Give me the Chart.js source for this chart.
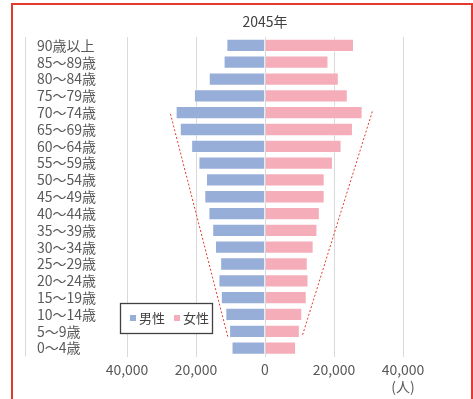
<!DOCTYPE html>
<html>
<head>
<meta charset="utf-8">
<script src="https://cdn.jsdelivr.net/npm/chart.js@4/dist/chart.umd.min.js"></script>
<style>
  html, body { margin: 0; padding: 0; background: #fff; overflow: hidden; }
  #wrap { position: relative; width: 473px; height: 399px; }
  #frame { position: absolute; left: 11px; top: 3px; width: 462px; height: 430px;
           border: 2.5px solid #e5392b; box-sizing: border-box; pointer-events: none; }
  canvas { position: absolute; left: 0; top: 0; }
</style>
</head>
<body>
<div id="wrap">
  <canvas id="pyramid" width="473" height="399"></canvas>
  <div id="frame"></div>
</div>
<script>
// Population by five-year age group, 2045 projection (persons)
const TITLE = '2045年';
const AGE_GROUPS = [
  '90歳以上', '85～89歳', '80～84歳', '75～79歳', '70～74歳', '65～69歳',
  '60～64歳', '55～59歳', '50～54歳', '45～49歳', '40～44歳', '35～39歳',
  '30～34歳', '25～29歳', '20～24歳', '15～19歳', '10～14歳', '5～9歳', '0～4歳'
];
const MALE = [
  11200, 12000, 16300, 20600, 25900, 24700, 21400, 19300, 17100, 17600,
  16400, 15300, 14500, 13000, 13500, 12800, 11500, 10400, 9700
];
const FEMALE = [
  25800, 18400, 21400, 24000, 28300, 25500, 22200, 19700, 17300, 17300,
  15900, 15200, 14100, 12400, 12600, 12100, 10800, 10100, 9000
];
const SERIES_NAMES = ['男性', '女性'];
const X_TICK_VALUES = [-40000, -20000, 0, 20000, 40000];
const UNIT_LABEL = '(人)';

// Dashed guide lines: [value, category index] pairs for each end
const GUIDE_LEFT = [[-27400, 4.07], [-10750, 17.35]];
const GUIDE_RIGHT = [[31100, 3.93], [10750, 17.31]];

const BLUE = '#97aed9';
const PINK = '#f5aeb9';
const TEXT = '#595959';
const GRID = '#d9d9d9';
const FONT = "'Noto Sans CJK JP', 'Noto Sans', sans-serif";

const fmt = v => Math.abs(v).toLocaleString('en-US');

const decorations = {
  id: 'decorations',
  afterDatasetsDraw(chart) {
    const { ctx, chartArea, scales } = chart;
    const x = scales.x, y = scales.y;
    ctx.save();

    // outer boundary line of the label column
    ctx.strokeStyle = GRID;
    ctx.lineWidth = 1;
    ctx.beginPath();
    ctx.moveTo(25.5, chartArea.top);
    ctx.lineTo(25.5, chartArea.bottom);
    ctx.stroke();

    // dashed funnel guides
    ctx.strokeStyle = '#e8392b';
    ctx.lineWidth = 1;
    ctx.setLineDash([2, 2]);
    for (const g of [GUIDE_LEFT, GUIDE_RIGHT]) {
      ctx.beginPath();
      ctx.moveTo(x.getPixelForValue(g[0][0]), y.getPixelForValue(g[0][1]));
      ctx.lineTo(x.getPixelForValue(g[1][0]), y.getPixelForValue(g[1][1]));
      ctx.stroke();
    }
    ctx.setLineDash([]);

    // title centred over the plot
    ctx.fillStyle = '#404040';
    ctx.font = '14px ' + FONT;
    ctx.textAlign = 'center';
    ctx.textBaseline = 'middle';
    ctx.fillText(TITLE, (chartArea.left + chartArea.right) / 2, 22);

    // boxed legend inside the plot
    const bx = chartArea.left - 7, by = 303, bw = 92, bh = 30;
    ctx.fillStyle = '#fff';
    ctx.fillRect(bx, by, bw, bh);
    ctx.strokeStyle = '#404040';
    ctx.lineWidth = 1.3;
    ctx.strokeRect(bx + 0.5, by + 0.5, bw, bh);
    ctx.font = '13px ' + FONT;
    ctx.textAlign = 'left';
    let cx = bx + 10;
    chart.data.datasets.forEach(ds => {
      ctx.fillStyle = ds.backgroundColor;
      ctx.fillRect(cx, by + 12, 6, 6);
      ctx.fillStyle = '#404040';
      ctx.fillText(ds.label, cx + 9, by + 15.5);
      cx += 44;
    });
    ctx.restore();
  }
};

new Chart(document.getElementById('pyramid'), {
  type: 'bar',
  data: {
    labels: AGE_GROUPS,
    datasets: [
      { label: SERIES_NAMES[0], data: MALE.map(v => -v), backgroundColor: BLUE,
        borderColor: 'rgba(255,255,255,0.55)', borderWidth: 1 },
      { label: SERIES_NAMES[1], data: FEMALE, backgroundColor: PINK,
        borderColor: 'rgba(255,255,255,0.55)', borderWidth: 1 }
    ]
  },
  options: {
    indexAxis: 'y',
    responsive: false,
    animation: false,
    devicePixelRatio: 1,
    layout: { padding: { left: 37, right: 70, top: 37, bottom: 0 } },
    datasets: { bar: { barPercentage: 0.79, categoryPercentage: 1 } },
    plugins: {
      legend: { display: false },
      title: { display: false },
      tooltip: { enabled: false }
    },
    scales: {
      x: {
        stacked: true,
        min: -40000, max: 40000,
        afterBuildTicks: s => { s.ticks = X_TICK_VALUES.map(v => ({ value: v })); },
        afterFit: s => { s.height = 42.5; },
        grid: { color: GRID, lineWidth: 1, drawTicks: false },
        border: { display: false },
        ticks: {
          padding: 5,
          color: TEXT,
          font: { family: FONT, size: 14 },
          maxRotation: 0,
          callback: v => v === X_TICK_VALUES[X_TICK_VALUES.length - 1] ? [fmt(v), UNIT_LABEL] : fmt(v)
        }
      },
      y: {
        stacked: true,
        afterFit: s => { s.width = 90; },
        grid: { display: false, drawTicks: false },
        border: { display: false },
        ticks: {
          crossAlign: 'far',
          padding: 0,
          color: TEXT,
          font: { family: FONT, size: 14 },
          autoSkip: false
        }
      }
    }
  },
  plugins: [decorations]
});
</script>
</body>
</html>
